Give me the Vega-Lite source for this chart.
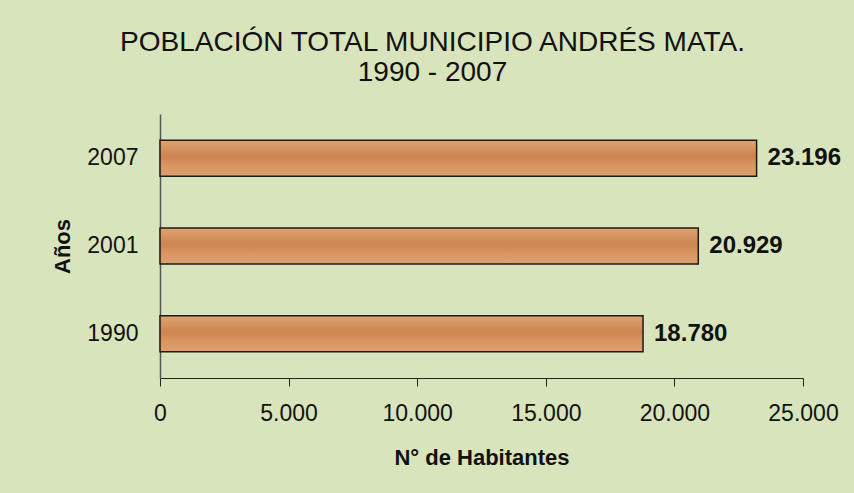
{
  "$schema": "https://vega.github.io/schema/vega-lite/v6.json",
  "autosize": "none",
  "width": 643,
  "height": 264,
  "padding": {"left": 160, "top": 114, "right": 51, "bottom": 115},
  "background": "#d8e4bc",
  "title": {
    "text": ["POBLACIÓN TOTAL MUNICIPIO ANDRÉS MATA.", "1990 - 2007"],
    "anchor": "middle",
    "dx": -49,
    "offset": 27,
    "font": "Liberation Sans",
    "fontSize": 28,
    "fontWeight": "normal",
    "color": "#111111",
    "lineHeight": 30
  },
  "data": {
    "values": [
      {"anio": "2007", "habitantes": 23196},
      {"anio": "2001", "habitantes": 20929},
      {"anio": "1990", "habitantes": 18780}
    ]
  },
  "encoding": {
    "y": {
      "field": "anio",
      "type": "nominal",
      "sort": ["2007", "2001", "1990"],
      "scale": {"paddingInner": 0.59, "paddingOuter": 0.3},
      "axis": {
        "title": "Años",
        "titleFont": "Liberation Sans",
        "titleFontSize": 22,
        "titleFontWeight": "bold",
        "titleColor": "#111111",
        "titlePadding": 12,
        "labelFont": "Liberation Sans",
        "labelFontSize": 23,
        "labelColor": "#111111",
        "labelPadding": 22,
        "ticks": false,
        "domainColor": "#555555",
        "domainWidth": 1.5
      }
    },
    "x": {
      "field": "habitantes",
      "type": "quantitative",
      "scale": {"domain": [0, 25000], "nice": false},
      "axis": {
        "title": "N° de Habitantes",
        "titleFont": "Liberation Sans",
        "titleFontSize": 22,
        "titleFontWeight": "bold",
        "titleColor": "#111111",
        "titlePadding": 22,
        "values": [0, 5000, 10000, 15000, 20000, 25000],
        "format": ",d",
        "labelFont": "Liberation Sans",
        "labelFontSize": 23,
        "labelColor": "#111111",
        "labelPadding": 16,
        "labelFlush": false,
        "grid": false,
        "tickSize": 8,
        "tickColor": "#222222",
        "domainColor": "#222222",
        "domainWidth": 1.2
      }
    }
  },
  "layer": [
    {
      "mark": {
        "type": "bar",
        "stroke": "#1a1a1a",
        "strokeWidth": 1.5,
        "color": {
          "gradient": "linear",
          "x1": 0, "y1": 0, "x2": 0, "y2": 1,
          "stops": [
            {"offset": 0, "color": "#e0a272"},
            {"offset": 0.45, "color": "#cc8450"},
            {"offset": 0.7, "color": "#d89562"},
            {"offset": 1, "color": "#dea06e"}
          ]
        }
      }
    },
    {
      "mark": {
        "type": "text",
        "align": "left",
        "dx": 11,
        "font": "Liberation Sans",
        "fontSize": 24,
        "fontWeight": "bold",
        "color": "#111111"
      },
      "encoding": {
        "text": {"field": "habitantes", "type": "quantitative", "format": ",d"}
      }
    }
  ],
  "config": {
    "view": {"stroke": null},
    "locale": {
      "number": {
        "decimal": ",",
        "thousands": ".",
        "grouping": [3],
        "currency": ["", ""]
      }
    }
  }
}
